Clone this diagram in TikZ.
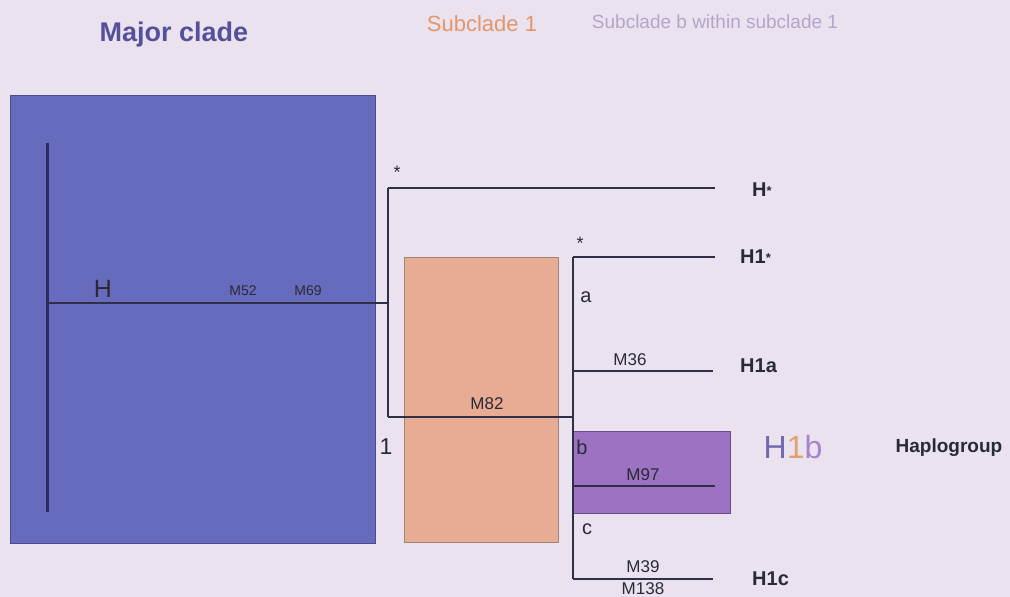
\documentclass[tikz,border=0pt]{standalone}
\usepackage{fontspec}
\setmainfont{Liberation Sans}
\definecolor{bgcol}{HTML}{EAE3EF}
\definecolor{majorcol}{HTML}{676BBE}
\definecolor{majoredge}{HTML}{4A4C8E}
\definecolor{subcol}{HTML}{E8AC94}
\definecolor{subedge}{HTML}{A08478}
\definecolor{subbcol}{HTML}{9D72C2}
\definecolor{subbedge}{HTML}{6C4C86}
\definecolor{linecol}{HTML}{2F2F48}
\definecolor{rootcol}{HTML}{2A2B5E}
\definecolor{txtcol}{HTML}{2A2A35}
\definecolor{titleA}{HTML}{55509A}
\definecolor{titleB}{HTML}{E4956A}
\definecolor{titleC}{HTML}{B5A4CA}
\definecolor{hH}{HTML}{7468B0}
\definecolor{hOne}{HTML}{E2A070}
\definecolor{hB}{HTML}{A585C8}
\newcommand{\fs}[1]{\fontsize{#1}{#1}\selectfont}
\begin{document}
\begin{tikzpicture}[x=1pt,y=-1pt,
  branch/.style={draw=linecol,line width=2pt},
  rootline/.style={draw=rootcol,line width=3pt},
  tip/.style={font=\fs{20}\bfseries,text=txtcol,anchor=west,inner sep=0pt},
  mut/.style={font=\fs{17},text=txtcol,inner sep=0pt},
  small/.style={font=\fs{14},text=txtcol,inner sep=0pt},
  letter/.style={font=\fs{20},text=txtcol,inner sep=0pt},
  star/.style={font=\fs{18},text=txtcol,inner sep=0pt}]
\useasboundingbox (0,0) rectangle (1010,597);
\fill[bgcol] (0,0) rectangle (1010,597);
% clade boxes
\draw[fill=majorcol,draw=majoredge,line width=1pt] (10,95) rectangle (375,543);
\draw[fill=subcol,draw=subedge,line width=1pt] (404,257) rectangle (558,542);
\draw[fill=subbcol,draw=subbedge,line width=1pt] (573,431) rectangle (730,513);
% titles
\node[font=\fs{27}\bfseries,text=titleA] (tA) at (174,35) {Major clade};
\node[font=\fs{22},text=titleB] (tB) at (482,24) {Subclade 1};
\node[font=\fs{19},text=titleC] (tC) at (715,22) {Subclade b within subclade 1};
% tree coordinates
\coordinate (rtop) at (47,143);
\coordinate (rbot) at (47,512);
\coordinate (rmid) at (47,303);
\coordinate (n1) at (388,303);
\coordinate (n1t) at (388,188);
\coordinate (n1b) at (388,417);
\coordinate (tHs) at (715,188);
\coordinate (n2) at (573,417);
\coordinate (n2t) at (573,257);
\coordinate (n2a) at (573,371);
\coordinate (n2b) at (573,486);
\coordinate (n2c) at (573,579);
\coordinate (tH1s) at (715,257);
\coordinate (tH1a) at (713,371);
\coordinate (tH1b) at (715,486);
\coordinate (tH1c) at (713,579);
% branches
\draw[rootline] (rtop) -- (rbot);
\draw[branch] (rmid) -- (n1);
\draw[branch] (n1t) -- (n1b);
\draw[branch] (n1t) -- (tHs);
\draw[branch] (n1b) -- (n2);
\draw[branch] (n2t) -- (n2c);
\draw[branch] (n2t) -- (tH1s);
\draw[branch] (n2a) -- (tH1a);
\draw[branch] (n2b) -- (tH1b);
\draw[branch] (n2c) -- (tH1c);
% labels on branches
\node[font=\fs{25},text=txtcol,inner sep=0pt] (lH) at (103,289) {H};
\node[small] (m52) at (243,291) {M52};
\node[small] (m69) at (308,291) {M69};
\node[star] (s1) at (397,172) {*};
\node[star] (s2) at (580,243) {*};
\node[mut] (m82) at (487,404) {M82};
\node[font=\fs{23},text=txtcol,inner sep=0pt] (one) at (386,447) {1};
\node[letter] (la) at (586,297) {a};
\node[mut] (m36) at (630,360) {M36};
\node[letter] (lb) at (582,447) {b};
\node[mut] (m97) at (643,475) {M97};
\node[letter] (lc) at (587,529) {c};
\node[mut] (m39) at (643,567) {M39};
\node[mut] (m138) at (643,589) {M138};
% tips
\node[tip] (Hs) at (752,190) {H\raisebox{1pt}{\fs{13}*}};
\node[tip] (H1s) at (740,257) {H1\raisebox{1pt}{\fs{13}*}};
\node[tip] (H1a) at (740,366) {H1a};
\node[tip] (H1c) at (752,579) {H1c};
\node[font=\fs{32},inner sep=0pt] (H1b) at (793,447) {\textcolor{hH}{H}\textcolor{hOne}{1}\textcolor{hB}{b}};
\node[font=\fs{19}\bfseries,text=txtcol,inner sep=0pt] (hap) at (949,448) {Haplogroup};
\end{tikzpicture}
\end{document}
